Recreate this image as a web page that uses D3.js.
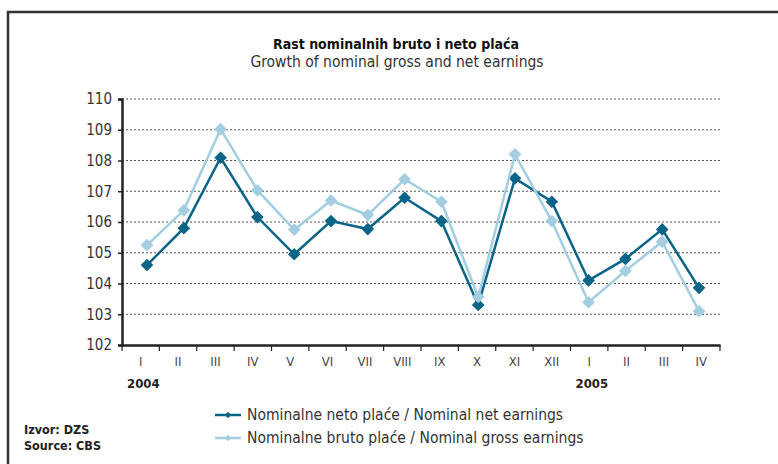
<!DOCTYPE html>
<meta charset="utf-8">
<style>
body { margin: 0; background: #fff; }
text { font-family: "Liberation Sans Narrow", "DejaVu Sans Condensed", sans-serif; fill: #333; }
.grid line { stroke: #555; stroke-dasharray: 2,2; stroke-width: 1; }
</style>
<svg width="778" height="464"></svg>
<script src="https://d3js.org/d3.v7.min.js"></script>
<script>

var months = ["I","II","III","IV","V","VI","VII","VIII","IX","X","XI","XII","I","II","III","IV"];
var years = [{ label: "2004", at: 0 }, { label: "2005", at: 12 }];
var netto = [104.6, 105.8, 108.09, 106.16, 104.95, 106.03, 105.77, 106.79, 106.03, 103.3, 107.42, 106.66, 104.1, 104.8, 105.76, 103.86];
var brutto = [105.25, 106.38, 109.02, 107.03, 105.75, 106.7, 106.23, 107.39, 106.66, 103.56, 108.2, 106.03, 103.39, 104.41, 105.36, 103.1];
var yTicks = [102, 103, 104, 105, 106, 107, 108, 109, 110];

var svg = d3.select("svg");

var x = d3.scaleBand().domain(d3.range(months.length)).range([122, 720]);
// points sit on a slightly narrower span than the category bands
var xp = d3.scalePoint().domain(d3.range(months.length)).range([147, 699]);
var y = d3.scaleLinear().domain([102, 110]).range([345, 99]);

// frame
svg.append("path")
    .attr("d", "M8,464V12H778")
    .attr("fill", "none")
    .attr("stroke", "#333")
    .attr("stroke-width", 2.5);

svg.append("text")
    .attr("x", 396).attr("y", 49)
    .attr("text-anchor", "middle")
    .attr("font-weight", "bold")
    .attr("font-size", 14)
    .style("fill", "#111")
    .text("Rast nominalnih bruto i neto plaća");

svg.append("text")
    .attr("x", 397).attr("y", 67)
    .attr("text-anchor", "middle")
    .attr("font-size", 15.5)
    .text("Growth of nominal gross and net earnings");

// grid
svg.append("g").attr("class", "grid")
  .selectAll("line")
  .data(yTicks.slice(1))
  .enter().append("line")
    .attr("x1", 122).attr("x2", 720)
    .attr("y1", function(d) { return y(d); })
    .attr("y2", function(d) { return y(d); });

// y axis
var yAxis = svg.append("g")
    .attr("transform", "translate(122,0)")
    .call(d3.axisLeft(y).tickValues(yTicks).tickSize(4).tickPadding(6).tickFormat(d3.format("d")));
yAxis.select(".domain").attr("stroke", "#222").attr("stroke-width", 2.5);
yAxis.selectAll(".tick line").attr("stroke", "#222").attr("stroke-width", 1.5);
yAxis.selectAll("text").attr("font-size", 15).style("fill", "#333");

// x axis
var xAxis = svg.append("g")
    .attr("transform", "translate(0,345)")
    .call(d3.axisBottom(x).tickFormat(function(i) { return months[i]; }).tickSize(0).tickPadding(12));
xAxis.select(".domain").attr("stroke", "#222").attr("stroke-width", 2.5);
xAxis.selectAll("text").attr("font-size", 13).style("fill", "#444");

// tick marks on band edges
svg.append("g")
  .selectAll("line")
  .data(d3.range(months.length + 1))
  .enter().append("line")
    .attr("x1", function(i) { return i < months.length ? x(i) : x.range()[1]; })
    .attr("x2", function(i) { return i < months.length ? x(i) : x.range()[1]; })
    .attr("y1", 345).attr("y2", 351)
    .attr("stroke", "#222").attr("stroke-width", 1.2);

svg.append("g")
  .selectAll("text")
  .data(years)
  .enter().append("text")
    .attr("x", function(d) { return x(d.at) + 5; })
    .attr("y", 388)
    .attr("font-weight", "bold")
    .attr("font-size", 13)
    .style("fill", "#222")
    .text(function(d) { return d.label; });

var series = [
  { name: "Nominalne neto plaće / Nominal net earnings", values: netto, color: "#0a6488" },
  { name: "Nominalne bruto plaće / Nominal gross earnings", values: brutto, color: "#a3cde0" }
];

var line = d3.line()
    .x(function(d, i) { return xp(i); })
    .y(function(d) { return y(d); });

var diamond = d3.symbol().type(d3.symbolSquare).size(80);

// net first, gross drawn over it
series.forEach(function(s) {
  svg.append("path")
      .datum(s.values)
      .attr("d", line)
      .attr("fill", "none")
      .attr("stroke", s.color)
      .attr("stroke-width", 2.5);

  svg.append("g")
    .selectAll("path")
    .data(s.values)
    .enter().append("path")
      .attr("d", diamond)
      .attr("fill", s.color)
      .attr("transform", function(d, i) {
        return "translate(" + xp(i) + "," + y(d) + ") rotate(45)";
      });
});

// legend
var legend = svg.append("g")
  .selectAll("g")
  .data(series)
  .enter().append("g")
    .attr("transform", function(d, i) { return "translate(215," + (415 + i * 23) + ")"; });

legend.append("line")
    .attr("x1", 0).attr("x2", 26)
    .attr("stroke", function(d) { return d.color; })
    .attr("stroke-width", 2.5);
legend.append("path")
    .attr("d", d3.symbol().type(d3.symbolSquare).size(22))
    .attr("transform", "translate(13,0) rotate(45)")
    .attr("fill", function(d) { return d.color; });
legend.append("text")
    .attr("x", 32).attr("y", 5)
    .attr("font-size", 15.5)
    .text(function(d) { return d.name; });

svg.append("text")
    .attr("x", 24).attr("y", 434)
    .attr("font-weight", "bold").attr("font-size", 12.5).style("fill", "#222")
    .text("Izvor: DZS");
svg.append("text")
    .attr("x", 24).attr("y", 450)
    .attr("font-weight", "bold").attr("font-size", 12.5).style("fill", "#222")
    .text("Source: CBS");

</script>
